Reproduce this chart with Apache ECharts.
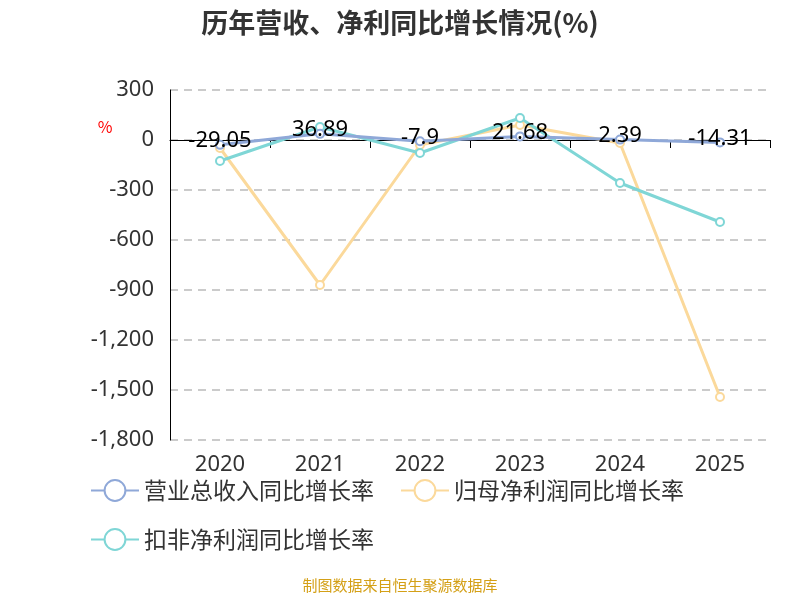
<!DOCTYPE html>
<html><head><meta charset="utf-8">
<script src="https://cdn.jsdelivr.net/npm/echarts@6/dist/echarts.min.js"></script>
</head><body style="margin:0">
<div id="c" style="width:800px;height:600px"></div>
<script>
const years = ['2020','2021','2022','2023','2024','2025'];
const revenue = [-29.05, 36.89, -7.9, 21.68, 2.39, -14.31];
const netProfit = [-48, -870, -30, 90, -18, -1542];
const deducted = [-126, 78, -78, 132, -258, -492];
const chart = echarts.init(document.getElementById('c'));
const ff = 'Noto Sans CJK SC';
chart.setOption({
  animation: false,
  textStyle: {fontFamily: ff},
  title: {text: '历年营收、净利同比增长情况(%)', left: 'center', top: 4,
    textStyle: {fontSize: 27, fontWeight: 'bold', color: '#333', fontFamily: ff}},
  graphic: [{type: 'text', left: 'center', top: 578,
    style: {text: '制图数据来自恒生聚源数据库', fill: '#d4a017', fontSize: 15, fontFamily: ff}}],
  legend: {left: 85, top: 474, width: 680, itemWidth: 48, itemHeight: 26, itemGap: 26,
    textStyle: {fontSize: 23, color: '#333'},
    data: ['营业总收入同比增长率', '归母净利润同比增长率', '扣非净利润同比增长率']},
  grid: {left: 170, right: 30, top: 90, bottom: 160},
  xAxis: [
    {type: 'category', data: years, axisLine: {onZero: true, lineStyle: {color: '#000'}},
      axisTick: {show: true, length: 8, lineStyle: {color: '#000'}}, axisLabel: {show: false}},
    {type: 'category', data: years, position: 'bottom', axisLine: {show: false}, axisTick: {show: false},
      axisLabel: {fontSize: 22, color: '#333', margin: 14, fontFamily: 'Noto Sans'}}
  ],
  yAxis: {type: 'value', min: -1800, max: 300, interval: 300, name: '%',
    nameLocation: 'end', nameGap: -45, nameTextStyle: {color: 'red', fontSize: 16, padding: [0, 130, 0, 0]},
    axisLine: {show: true, lineStyle: {color: '#000'}}, axisTick: {show: false},
    axisLabel: {fontSize: 22, color: '#333', margin: 16, fontFamily: 'Noto Sans'},
    splitLine: {lineStyle: {type: [8, 6], color: '#bbb', width: 1.5}}},
  series: [
    {name: '营业总收入同比增长率', type: 'line', data: revenue, symbol: 'emptyCircle', symbolSize: 8,
      lineStyle: {width: 3, color: '#8fa8d8'}, itemStyle: {color: '#8fa8d8'},
      label: {show: true, position: 'top', distance: -12, fontSize: 22, color: '#000', fontFamily: 'Noto Sans'}, z: 5},
    {name: '归母净利润同比增长率', type: 'line', data: netProfit, symbol: 'emptyCircle', symbolSize: 8,
      lineStyle: {width: 3, color: '#fbd99b'}, itemStyle: {color: '#fbd99b'}},
    {name: '扣非净利润同比增长率', type: 'line', data: deducted, symbol: 'emptyCircle', symbolSize: 8,
      lineStyle: {width: 3, color: '#7fd6d6'}, itemStyle: {color: '#7fd6d6'}}
  ]
});
</script></body></html>
